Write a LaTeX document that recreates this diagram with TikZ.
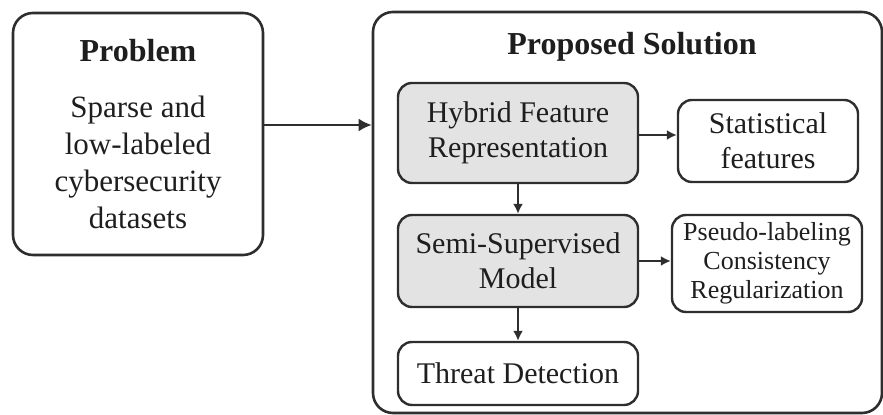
\documentclass[tikz,border=0pt]{standalone}
\usepackage{fontspec}
\setmainfont{Liberation Serif}
\usetikzlibrary{arrows.meta}
\definecolor{edge}{HTML}{2E2E2E}
\definecolor{boxfill}{HTML}{E3E3E3}
\definecolor{ink}{HTML}{1E1E1E}
\tikzset{
  box/.style={draw=edge, line width=1.2pt, rounded corners=7pt, inner sep=0pt, align=center, text=ink, font=\fontsize{15}{17.5}\selectfont},
  graybox/.style={box, fill=boxfill},
  bigbox/.style={draw=edge, line width=1.3pt, rounded corners=10pt, inner sep=0pt},
  title/.style={font=\fontsize{16}{19}\selectfont\bfseries, text=ink, inner sep=0pt},
  arr/.style={draw=edge, line width=1pt, -{Latex[length=5pt,width=5pt]}},
  bigarr/.style={draw=edge, line width=1.1pt, -{Latex[length=6.5pt,width=6.5pt]}}
}
\begin{document}
\begin{tikzpicture}[x=0.5pt,y=-0.5pt]
\useasboundingbox (0,0) rectangle (883,415);
% Problem
\node[bigbox, minimum width=125pt, minimum height=121pt] (prob) at (138,134) {};
\node[title, anchor=base] (probt) at (138,62) {Problem};
\node[align=center, text=ink, inner sep=0pt, anchor=base, font=\fontsize{15.5}{18.5}\selectfont] (probb) at (138,229) {Sparse and\\low-labeled\\cybersecurity\\datasets};
% Proposed solution
\node[bigbox, minimum width=254.5pt, minimum height=200.5pt] (outer) at (627.5,212.5) {};
\node[title, anchor=base] (solt) at (632,55) {Proposed Solution};
\node[graybox, minimum width=120pt, minimum height=50pt] (hyb) at (518,133) {Hybrid Feature\\Representation};
\node[box, minimum width=90pt, minimum height=41pt] (stat) at (768,141) {Statistical\\features};
\node[graybox, minimum width=120pt, minimum height=46pt] (semi) at (518,261) {Semi-Supervised\\Model};
\node[box, minimum width=95pt, minimum height=48.5pt, font=\fontsize{13}{14.5}\selectfont] (pseudo) at (767,263.5) {Pseudo-labeling\\Consistency\\Regularization};
\node[box, minimum width=120pt, minimum height=31.5pt] (threat) at (518,373.5) {Threat Detection};
% connectors
\draw[bigarr] ([yshift=4.5pt]prob.east) -- ([yshift=4.5pt]prob.east -| outer.west);
\draw[arr] ([yshift=-1pt]hyb.east) -- ([yshift=-1pt]hyb.east -| stat.west);
\draw[arr] (semi.east) -- (semi.east -| pseudo.west);
\draw[arr] (hyb.south) -- (semi.north);
\draw[arr] (semi.south) -- (threat.north);
\end{tikzpicture}
\end{document}
